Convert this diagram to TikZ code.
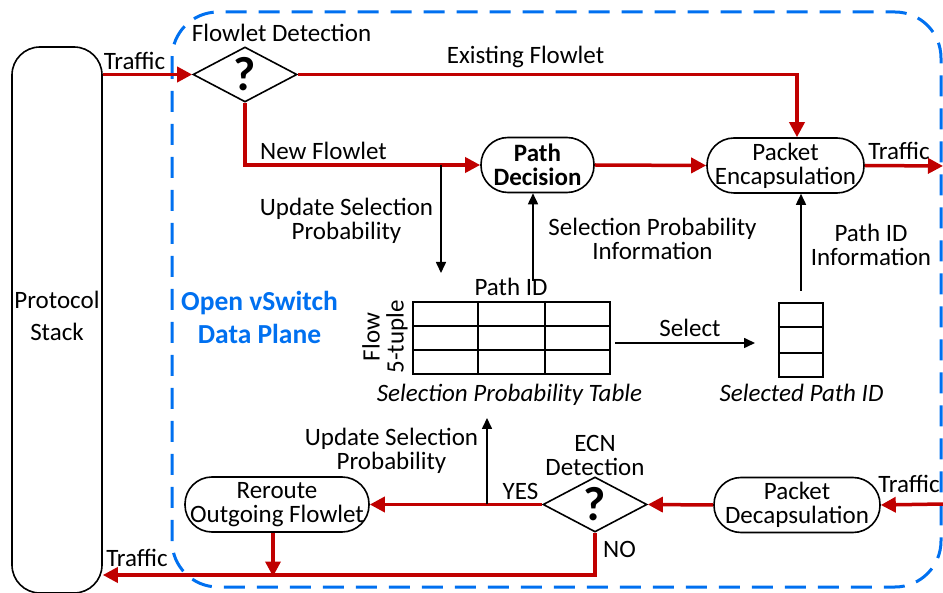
\documentclass[tikz,border=0pt]{standalone}
\usepackage{fontspec}
\setmainfont{Carlito}
\usetikzlibrary{shapes.geometric,arrows.meta,calc}
\definecolor{cred}{RGB}{192,0,0}
\definecolor{cblue}{RGB}{0,112,240}
\begin{document}
\begin{tikzpicture}[x=1pt,y=-1pt,
  font=\fontsize{25}{24}\selectfont,
  redarrow/.style={draw=cred, line width=3.5pt, -{Triangle[length=15pt,width=15pt]}},
  redline/.style={draw=cred, line width=3.5pt},
  blkarrow/.style={draw=black, line width=1.6pt, -{Triangle[length=11pt,width=10pt]}},
  stadium/.style={draw, line width=1.6pt, rounded corners=27pt, minimum height=55pt, inner sep=0pt, align=center},
  decision/.style={draw, line width=1.6pt, diamond, minimum width=104pt, minimum height=55pt, inner sep=0pt},
  qmark/.style={font=\fontsize{48}{48}\selectfont\bfseries},
  txt/.style={inner sep=0pt, anchor=base},
  mtxt/.style={inner sep=0pt, align=center},
  grid/.style={draw, line width=2.2pt}
]
\useasboundingbox (0,0) rectangle (943,593);

% data plane region
\draw[cblue, line width=3pt, dash pattern=on 21pt off 12pt, rounded corners=46pt] (172,12) rectangle (941,587);
\node[mtxt, text=cblue, font=\fontsize{27.5}{33}\selectfont\bfseries] (ovs) at (259.5,317) {Open vSwitch\\Data Plane};

% protocol stack
\node[draw, line width=1.6pt, rounded corners=28pt, minimum width=90pt, minimum height=546pt, inner sep=0pt] (ps) at (57,320) {};
\node[mtxt, font=\fontsize{25}{32}\selectfont] (pst) at (57,316) {Protocol\\Stack};

% top nodes
\node[decision, label={[qmark]center:?}] (fd) at (245,74.5) {};
\node[txt] (fdl) at (281.5,42) {Flowlet Detection};
\node[stadium, minimum width=113pt, font=\fontsize{25}{24}\selectfont\bfseries] (pd) at (537.5,165) {Path\\Decision};
\node[stadium, minimum width=157pt] (pe) at (785.5,165.5) {Packet\\Encapsulation};

% table
\node[grid, minimum width=197pt, minimum height=72pt, inner sep=0pt] (tbl) at (511.5,338) {};
\draw[grid] ($(tbl.north west)!1/3!(tbl.north east)$) -- ($(tbl.south west)!1/3!(tbl.south east)$);
\draw[grid] ($(tbl.north west)!2/3!(tbl.north east)$) -- ($(tbl.south west)!2/3!(tbl.south east)$);
\draw[grid] ($(tbl.north west)!1/3!(tbl.south west)$) -- ($(tbl.north east)!1/3!(tbl.south east)$);
\draw[grid] ($(tbl.north west)!2/3!(tbl.south west)$) -- ($(tbl.north east)!2/3!(tbl.south east)$);
\node[txt] (pid) at (511,296) {Path ID};
\node[mtxt, rotate=90] (f5) at (385,337) {Flow\\5-tuple};
\node[txt, font=\fontsize{25}{24}\selectfont\itshape] (spt) at (509.5,402) {Selection Probability Table};

% selected path id
\node[grid, minimum width=44pt, minimum height=74pt, inner sep=0pt] (sp) at (801,340) {};
\draw[grid] ($(sp.north west)!1/3!(sp.south west)$) -- ($(sp.north east)!1/3!(sp.south east)$);
\draw[grid] ($(sp.north west)!2/3!(sp.south west)$) -- ($(sp.north east)!2/3!(sp.south east)$);
\node[txt, font=\fontsize{25}{24}\selectfont\itshape] (spl) at (801.5,402) {Selected Path ID};

% bottom nodes
\node[stadium, minimum width=166pt] (dec) at (797,505) {Packet\\Decapsulation};
\node[decision, label={[qmark]center:?}] (ecn) at (595,504.5) {};
\node[mtxt] (ecnl) at (595,455) {ECN\\Detection};
\node[stadium, minimum width=184pt] (rr) at (277,504.5) {Reroute\\Outgoing Flowlet};

% coordinates for free ends
\coordinate (upd1) at (441,273);
\coordinate (upd2) at (487,418);
\coordinate (pidS) at (533,281);
\coordinate (selS) at (615,343);
\coordinate (selE) at (755,343);
\coordinate (spS) at (801,291);
\coordinate (outR) at (943,166);
\coordinate (inR) at (943,504);
\coordinate (mrg) at (273,575);

% red traffic flow
\draw[redarrow] (ps.east |- fd.west) -- (fd.west);
\node[txt] (t1) at (134.5,70) {Traffic};
\draw[redarrow] (fd.east) -| ([xshift=11.5pt]pe.north);
\node[txt] (ef) at (525.5,64) {Existing Flowlet};
\draw[redarrow] (fd.south) |- (pd.west);
\node[txt] (nf) at (323.5,160) {New Flowlet};
\draw[redarrow] (pd.east) -- (pe.west);
\draw[redarrow] (pe.east) -- (outR);
\node[txt] (t2) at (899,160) {Traffic};

\draw[redarrow] (inR) -- (dec.east);
\node[txt] (t3) at (909,493) {Traffic};
\draw[redarrow] (dec.west) -- (ecn.east);
\draw[redarrow] (ecn.west) -- (rr.east);
\node[txt] (yes) at (520.5,500) {YES};
\draw[redarrow] (ecn.south) |- (ps.east |- mrg);
\node[txt] (no) at (619.5,557) {NO};
\node[txt] (t4) at (137,566) {Traffic};
\draw[redarrow] (rr.south -| mrg) -- ([yshift=-1.5pt]mrg);

% black info arrows
\draw[blkarrow] (upd1 |- pd.west) -- (upd1);
\node[mtxt] (ul1) at (346.5,221) {Update Selection\\Probability};
\draw[blkarrow] (pidS) -- (pidS |- pd.south);
\node[mtxt] (spi) at (652.5,238.5) {Selection Probability\\Information};
\draw[blkarrow] (selS) -- (selE);
\node[txt] (sel) at (690,337) {Select};
\draw[blkarrow] (spS) -- (spS |- pe.south);
\node[mtxt] (pii) at (871,244.5) {Path ID\\Information};
\draw[blkarrow] (upd2 |- ecn.west) -- (upd2);
\node[mtxt] (ul2) at (391.5,451) {Update Selection\\Probability};
\end{tikzpicture}
\end{document}
